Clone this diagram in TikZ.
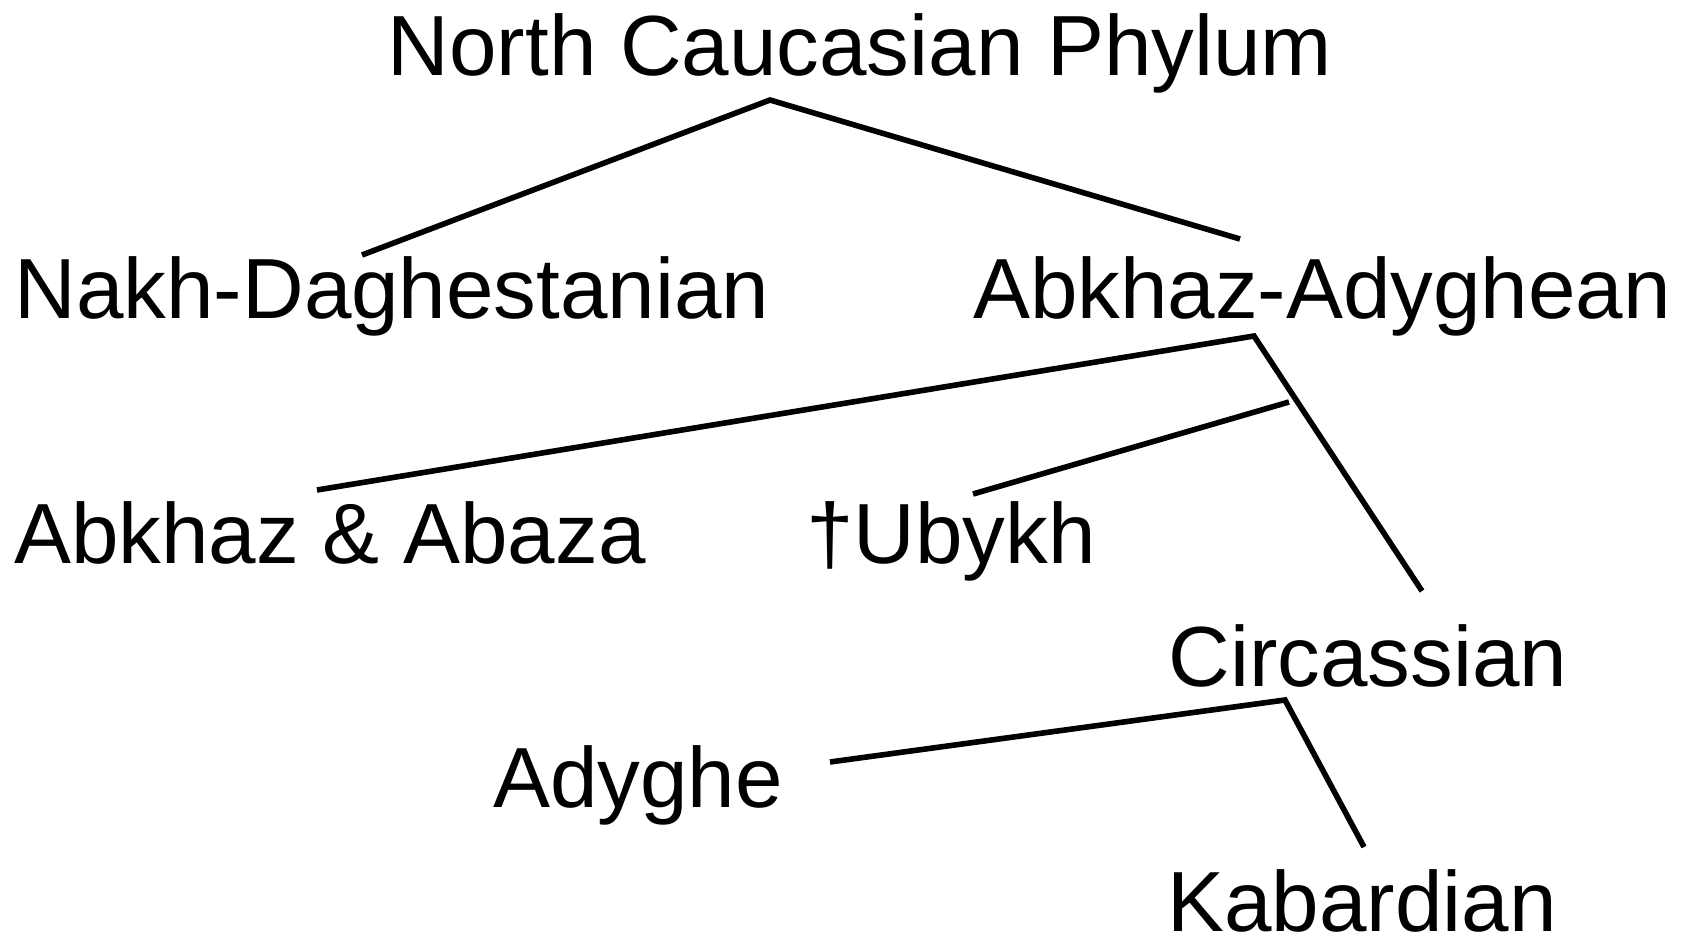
\documentclass[tikz,border=0pt]{standalone}
\usepackage{fontspec}
\setmainfont{Liberation Sans}
\usepackage{tikz}
\usetikzlibrary{calc}

\tikzset{
  lang/.style={font=\fontsize{42.7}{50}\selectfont, inner sep=0pt, anchor=base},
  branch/.style={line width=2.8pt, line cap=butt}
}

\begin{document}
\begin{tikzpicture}[x=0.5pt,y=-0.5pt]
  \useasboundingbox (0,0) rectangle (1681,937);
  % language names
  \node[lang] (phylum) at (860,75)  {North Caucasian Phylum};
  \node[lang] (nakh)   at (392,318) {Nakh-Daghestanian};
  \node[lang] (abad)   at (1322,318) {Abkhaz-Adyghean};
  \node[lang] (abaza)  at (330,563) {Abkhaz \& Abaza};
  \node[lang] (ubykh)  at (951,563) {†Ubykh};
  \node[lang] (circ)   at (1368,686) {Circassian};
  \node[lang] (adyghe) at (638,807) {Adyghe};
  \node[lang] (kabard) at (1362,931) {Kabardian};
  % branch points and line ends
  \coordinate (phylumTop) at (770,100);
  \coordinate (nakhEnd)   at (362,255);
  \coordinate (abadEnd)   at (1240,239);
  \coordinate (abadTop)   at (1254,336);
  \coordinate (ubykhTop)  at (1289,402);
  \coordinate (abazaEnd)  at (317,490);
  \coordinate (ubykhEnd)  at (973,494);
  \coordinate (circEnd)   at (1422,591);
  \coordinate (circTop)   at (1285,700);
  \coordinate (adygheEnd) at (830,762);
  \coordinate (kabardEnd) at (1364,847);
  % tree
  \draw[branch] (nakhEnd) -- (phylumTop) -- (abadEnd);
  \draw[branch] (abazaEnd) -- (abadTop) -- (circEnd);
  \draw[branch] (ubykhTop) -- (ubykhEnd);
  \draw[branch] (adygheEnd) -- (circTop) -- (kabardEnd);
\end{tikzpicture}
\end{document}
